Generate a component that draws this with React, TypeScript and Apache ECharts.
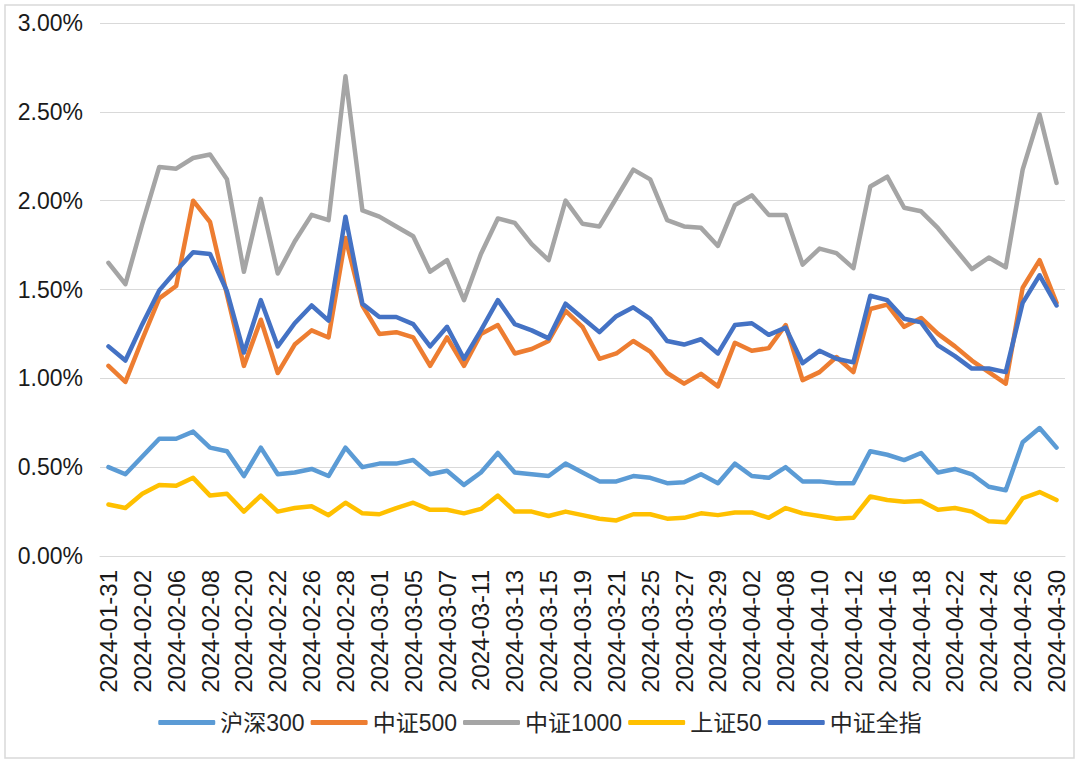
import React, { useEffect, useRef } from "react";
import * as echarts from "echarts";

const dates = [
  "2024-01-31", "2024-02-01", "2024-02-02", "2024-02-05", "2024-02-06", "2024-02-07", "2024-02-08",
  "2024-02-19", "2024-02-20", "2024-02-21", "2024-02-22", "2024-02-23", "2024-02-26", "2024-02-27",
  "2024-02-28", "2024-02-29", "2024-03-01", "2024-03-04", "2024-03-05", "2024-03-06", "2024-03-07",
  "2024-03-08", "2024-03-11", "2024-03-12", "2024-03-13", "2024-03-14", "2024-03-15", "2024-03-18",
  "2024-03-19", "2024-03-20", "2024-03-21", "2024-03-22", "2024-03-25", "2024-03-26", "2024-03-27",
  "2024-03-28", "2024-03-29", "2024-04-01", "2024-04-02", "2024-04-03", "2024-04-08", "2024-04-09",
  "2024-04-10", "2024-04-11", "2024-04-12", "2024-04-15", "2024-04-16", "2024-04-17", "2024-04-18",
  "2024-04-19", "2024-04-22", "2024-04-23", "2024-04-24", "2024-04-25", "2024-04-26", "2024-04-29",
  "2024-04-30",
];

const hs300 = [
  0.50, 0.46, 0.56, 0.66, 0.66, 0.70, 0.61, 0.59, 0.45, 0.61,
  0.46, 0.47, 0.49, 0.45, 0.61, 0.50, 0.52, 0.52, 0.54, 0.46,
  0.48, 0.40, 0.47, 0.58, 0.47, 0.46, 0.45, 0.52, 0.47, 0.42,
  0.42, 0.45, 0.44, 0.41, 0.415, 0.46, 0.41, 0.52, 0.45, 0.44,
  0.50, 0.42, 0.42, 0.41, 0.41, 0.59, 0.57, 0.54, 0.58, 0.47,
  0.49, 0.46, 0.39, 0.37, 0.64, 0.72, 0.61,
];

const zz500 = [
  1.07, 0.98, 1.22, 1.45, 1.52, 2.00, 1.88, 1.47, 1.07, 1.33,
  1.03, 1.19, 1.27, 1.23, 1.79, 1.41, 1.25, 1.26, 1.23, 1.07,
  1.23, 1.07, 1.25, 1.30, 1.14, 1.165, 1.21, 1.38, 1.29, 1.11,
  1.14, 1.21, 1.15, 1.03, 0.97, 1.025, 0.955, 1.20, 1.155, 1.17,
  1.30, 0.99, 1.035, 1.12, 1.035, 1.39, 1.415, 1.29, 1.34, 1.25,
  1.18, 1.10, 1.035, 0.97, 1.51, 1.665, 1.425,
];

const zz1000 = [
  1.65, 1.53, 1.87, 2.19, 2.18, 2.24, 2.26, 2.12, 1.60, 2.01,
  1.59, 1.77, 1.92, 1.89, 2.70, 1.945, 1.91, 1.855, 1.80, 1.60,
  1.665, 1.44, 1.70, 1.90, 1.875, 1.755, 1.665, 2.00, 1.87, 1.855,
  2.015, 2.175, 2.12, 1.89, 1.855, 1.847, 1.745, 1.975, 2.03, 1.92,
  1.92, 1.64, 1.73, 1.705, 1.62, 2.08, 2.135, 1.96, 1.94, 1.845,
  1.73, 1.615, 1.68, 1.625, 2.175, 2.485, 2.10,
];

const sz50 = [
  0.29, 0.27, 0.35, 0.40, 0.395, 0.44, 0.34, 0.35, 0.25, 0.34,
  0.25, 0.27, 0.28, 0.23, 0.30, 0.24, 0.235, 0.27, 0.30, 0.26,
  0.26, 0.24, 0.265, 0.34, 0.25, 0.25, 0.225, 0.25, 0.23, 0.21,
  0.20, 0.235, 0.235, 0.21, 0.215, 0.24, 0.23, 0.245, 0.245, 0.215,
  0.27, 0.24, 0.225, 0.21, 0.215, 0.335, 0.315, 0.305, 0.31, 0.26,
  0.27, 0.25, 0.195, 0.19, 0.325, 0.36, 0.315,
];

const zzqz = [
  1.18, 1.10, 1.305, 1.495, 1.605, 1.71, 1.70, 1.49, 1.145, 1.44,
  1.18, 1.31, 1.41, 1.325, 1.91, 1.42, 1.345, 1.345, 1.305, 1.18,
  1.29, 1.11, 1.27, 1.44, 1.305, 1.27, 1.225, 1.42, 1.34, 1.26,
  1.35, 1.40, 1.335, 1.21, 1.19, 1.22, 1.14, 1.30, 1.31, 1.245,
  1.285, 1.085, 1.155, 1.11, 1.09, 1.465, 1.44, 1.335, 1.315, 1.185,
  1.125, 1.055, 1.055, 1.035, 1.425, 1.58, 1.41,
];

const seriesNames = ["沪深300", "中证500", "中证1000", "上证50", "中证全指"];
const seriesColors = ["#5B9BD5", "#ED7D31", "#A5A5A5", "#FFC000", "#4472C4"];
const seriesData = [hs300, zz500, zz1000, sz50, zzqz];

const FONT = "'Liberation Sans', Arial, 'Noto Sans CJK SC', sans-serif";

export default function App() {
  const ref = useRef<HTMLDivElement>(null);

  useEffect(() => {
    if (!ref.current) return;
    const chart = echarts.init(ref.current, undefined, { renderer: "svg" });
    chart.setOption({
      animation: false,
      backgroundColor: "#ffffff",
      textStyle: { fontFamily: FONT },
      graphic: [
        {
          type: "rect",
          shape: { x: 5, y: 5, width: 1069, height: 753 },
          style: { fill: "none", stroke: "#D9D9D9", lineWidth: 1.5 },
          silent: true,
        },
      ],
      grid: { left: 100, right: 15, top: 23, bottom: 208, containLabel: false },
      legend: {
        data: seriesNames,
        left: "center",
        top: 706,
        icon: "roundRect",
        itemWidth: 57,
        itemHeight: 5,
        itemGap: 6,
        textStyle: { fontSize: 23, color: "#262626", fontFamily: FONT },
      },
      xAxis: {
        type: "category",
        data: dates,
        boundaryGap: true,
        axisLine: { show: true, lineStyle: { color: "#D9D9D9", width: 1 } },
        axisTick: { show: false },
        axisLabel: {
          interval: 1,
          rotate: 90,
          fontSize: 24,
          color: "#1a1a1a",
          margin: 14,
          fontFamily: FONT,
        },
      },
      yAxis: {
        type: "value",
        min: 0,
        max: 3,
        interval: 0.5,
        axisLine: { show: false },
        axisTick: { show: false },
        splitLine: { show: true, lineStyle: { color: "#D9D9D9", width: 1 } },
        axisLabel: {
          fontSize: 23,
          color: "#1a1a1a",
          margin: 17,
          fontFamily: FONT,
          formatter: (v: number) => v.toFixed(2) + "%",
        },
      },
      series: seriesNames.map((name, k) => ({
        name,
        type: "line",
        data: seriesData[k],
        showSymbol: false,
        symbol: "none",
        color: seriesColors[k],
        lineStyle: { width: 4.5, color: seriesColors[k], cap: "round", join: "round" },
        z: 2 + k,
      })),
    });
    return () => chart.dispose();
  }, []);

  return (
    <div
      ref={ref}
      style={{ position: "absolute", left: 0, top: 0, width: 1080, height: 764 }}
    />
  );
}
